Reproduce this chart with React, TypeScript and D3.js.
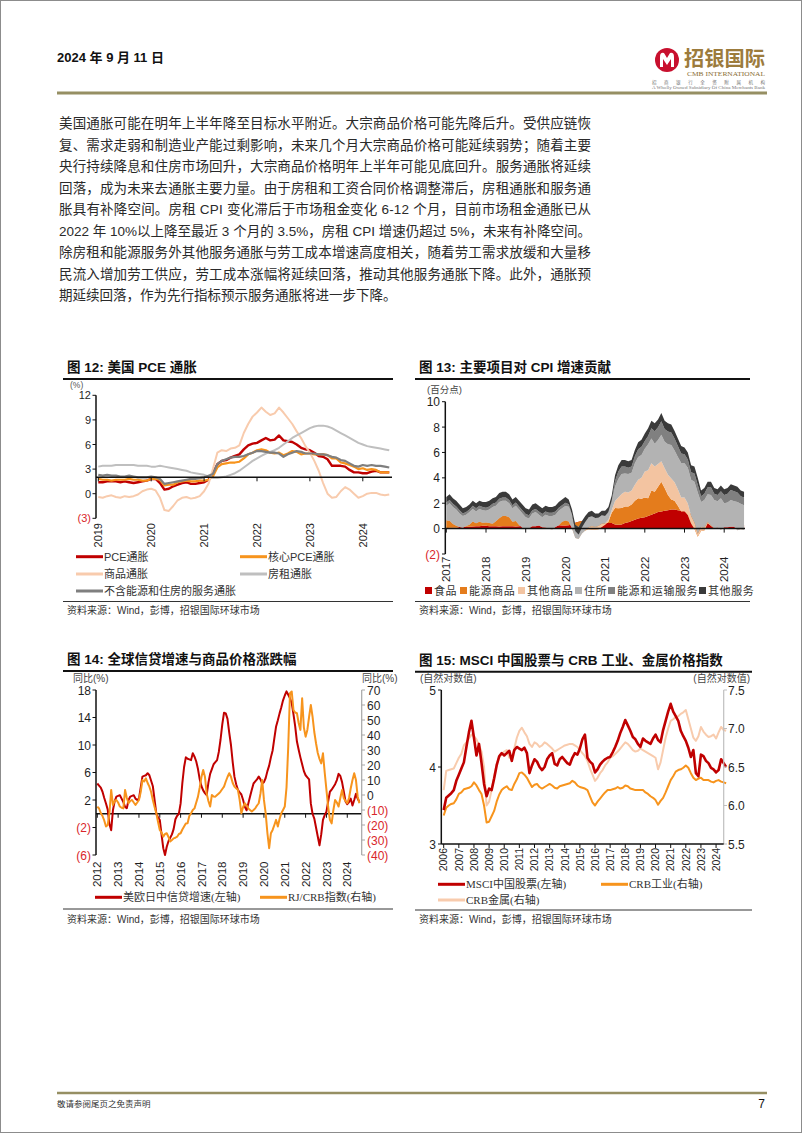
import React from "react";
import * as d3 from "d3";

const SANS = "'Liberation Sans', Arial, 'Noto Sans CJK SC', sans-serif";
const CJK = "'Liberation Sans', 'Noto Sans CJK SC', sans-serif";
const SERIF = "'Liberation Serif', 'Noto Sans CJK SC', serif";
const INK = "#1f1f1f";
const NEG = "#d9262b";
const GOLD = "#968f63";

// ---------- page text ----------
const headerDate = "2024 年 9 月 11 日";
const bodyLines = [
  "美国通胀可能在明年上半年降至目标水平附近。大宗商品价格可能先降后升。受供应链恢",
  "复、需求走弱和制造业产能过剩影响，未来几个月大宗商品价格可能延续弱势；随着主要",
  "央行持续降息和住房市场回升，大宗商品价格明年上半年可能见底回升。服务通胀将延续",
  "回落，成为未来去通胀主要力量。由于房租和工资合同价格调整滞后，房租通胀和服务通",
  "胀具有补降空间。房租 CPI 变化滞后于市场租金变化 6-12 个月，目前市场租金通胀已从",
  "2022 年 10%以上降至最近 3 个月的 3.5%，房租 CPI 增速仍超过 5%，未来有补降空间。",
  "除房租和能源服务外其他服务通胀与劳工成本增速高度相关，随着劳工需求放缓和大量移",
  "民流入增加劳工供应，劳工成本涨幅将延续回落，推动其他服务通胀下降。此外，通胀预",
  "期延续回落，作为先行指标预示服务通胀将进一步下降。",
];
const sourceText = "资料来源：Wind，彭博，招银国际环球市场";

// ---------- chart 12: US PCE inflation, monthly from 2019-01 ----------
const years12 = [2019, 2020, 2021, 2022, 2023, 2024];
const ticks12 = [-3, 0, 3, 6, 9, 12];
const pceHeadline = [
  1.4, 1.4, 1.5, 1.5, 1.5, 1.4, 1.5, 1.4, 1.3, 1.4, 1.5, 1.6,
  1.8, 1.8, 1.3, 0.5, 0.6, 0.9, 1.1, 1.3, 1.4, 1.2, 1.2, 1.3,
  1.4, 1.7, 2.5, 3.6, 4.0, 4.1, 4.4, 4.6, 4.8, 5.4, 5.9, 6.1,
  6.2, 6.5, 6.8, 6.5, 6.6, 7.1, 6.5, 6.4, 6.3, 6.0, 5.6, 5.4,
  5.3, 5.0, 4.6, 4.5, 4.2, 3.4, 3.4, 3.4, 3.3, 2.9, 2.6, 2.6,
  2.5, 2.5, 2.7, 2.8, 2.6, 2.6, 2.6,
];
const pceCore = [
  1.8, 1.7, 1.7, 1.6, 1.7, 1.7, 1.7, 1.8, 1.7, 1.7, 1.6, 1.6,
  1.8, 1.8, 1.7, 1.0, 1.1, 1.1, 1.4, 1.5, 1.6, 1.5, 1.5, 1.6,
  1.6, 1.7, 2.1, 3.2, 3.6, 3.7, 3.8, 3.8, 3.9, 4.3, 4.8, 5.0,
  5.3, 5.4, 5.3, 5.0, 4.9, 5.0, 4.7, 4.9, 5.2, 5.1, 4.8, 4.9,
  4.9, 4.8, 4.8, 4.8, 4.7, 4.3, 4.3, 3.8, 3.7, 3.5, 3.3, 3.0,
  3.1, 2.9, 3.0, 2.9, 2.6, 2.6, 2.6,
];
const pceGoods = [
  -0.4, -0.5, -0.3, -0.2, -0.4, -0.5, -0.3, -0.4, -0.3, -0.1, 0.3, 0.5,
  0.6, 0.4, -0.5, -2.0, -2.1, -1.5, -0.8, -0.5, -0.4, -0.6, -0.5, -0.3,
  0.3, 1.2, 3.0, 5.0, 5.3, 5.2, 5.5, 5.6, 5.9, 7.4, 8.5, 9.4,
  9.9, 10.5, 10.0, 9.6, 9.8, 10.5, 9.9, 9.2, 8.5, 7.6, 6.8, 5.8,
  5.0, 4.0, 2.8, 1.3, 0.0, -0.5, -0.4, 0.3, 0.8, 0.5, 0.0, -0.5,
  -0.3, 0.0, 0.1, 0.1, -0.1, -0.2, -0.1,
];
const pceRent = [
  3.3, 3.4, 3.4, 3.4, 3.5, 3.5, 3.5, 3.5, 3.5, 3.4, 3.4, 3.4,
  3.3, 3.3, 3.4, 3.3, 3.2, 3.1, 3.0, 2.9, 2.8, 2.6, 2.5, 2.4,
  2.3, 2.1, 1.9, 1.9, 2.0, 2.1, 2.3, 2.5, 2.8, 3.2, 3.6, 4.0,
  4.3, 4.6, 4.9, 5.1, 5.3, 5.6, 6.0, 6.4, 6.8, 7.1, 7.4, 7.7,
  8.0, 8.2, 8.3, 8.3, 8.2, 8.0, 7.7, 7.4, 7.1, 6.8, 6.5, 6.2,
  6.0, 5.8, 5.7, 5.6, 5.5, 5.4, 5.3,
];
const pceSupercore = [
  2.3, 2.2, 2.3, 2.2, 2.2, 2.1, 2.1, 2.2, 2.1, 2.0, 2.0, 2.0,
  2.1, 2.0, 1.8, 1.2, 1.3, 1.4, 1.5, 1.6, 1.7, 1.8, 1.8, 1.9,
  2.0, 2.2, 2.4, 3.6, 4.0, 4.2, 4.4, 4.5, 4.5, 4.6, 4.8, 5.0,
  5.2, 5.2, 5.1, 5.0, 5.0, 4.9, 4.5, 4.8, 5.0, 5.2, 5.1, 4.9,
  4.9, 4.9, 4.8, 4.8, 4.7, 4.5, 4.4, 4.1, 4.0, 3.7, 3.4, 3.3,
  3.5, 3.4, 3.5, 3.4, 3.4, 3.3, 3.2,
];

// ---------- chart 13: contributions to CPI, monthly from 2017-01 ----------
const years13 = [2017, 2018, 2019, 2020, 2021, 2022, 2023, 2024];
const ticks13 = [-2, 0, 2, 4, 6, 8, 10];
const cpiFood = [
  0.03, 0.07, 0.07, 0.07, 0.12, 0.12, 0.15, 0.15, 0.16, 0.18, 0.19, 0.22,
  0.23, 0.19, 0.18, 0.19, 0.16, 0.19, 0.19, 0.19, 0.19, 0.16, 0.19, 0.22,
  0.22, 0.27, 0.28, 0.24, 0.27, 0.26, 0.24, 0.23, 0.24, 0.28, 0.27, 0.24,
  0.24, 0.27, 0.35, 0.47, 0.54, 0.61, 0.55, 0.55, 0.53, 0.53, 0.5, 0.53,
  0.45, 0.45, 0.45, 0.32, 0.3, 0.32, 0.45, 0.5, 0.6, 0.7, 0.8, 0.85,
  0.9, 1.0, 1.1, 1.2, 1.3, 1.35, 1.4, 1.45, 1.5, 1.5, 1.45, 1.4,
  1.36, 1.28, 1.15, 1.04, 0.9, 0.77, 0.66, 0.58, 0.5, 0.45, 0.39, 0.36,
  0.35, 0.3, 0.3, 0.3, 0.28, 0.3, 0.3,
];
const cpiEnergyGoods = [
  0.65, 0.6, 0.35, 0.2, 0.05, 0.0, 0.1, 0.2, 0.45, 0.3, 0.4, 0.3,
  0.3, 0.3, 0.25, 0.45, 0.7, 0.85, 0.85, 0.75, 0.4, 0.5, 0.15, -0.1,
  -0.2, -0.2, -0.05, 0.0, 0.02, -0.1, -0.1, -0.2, -0.25, -0.1, 0.05, 0.35,
  0.45, 0.35, -0.3, -1.1, -1.2, -0.9, -0.7, -0.6, -0.6, -0.6, -0.55, -0.4,
  -0.15, 0.1, 0.8, 1.3, 1.3, 1.3, 1.3, 1.25, 1.3, 1.5, 1.6, 1.5,
  1.55, 1.4, 1.9, 1.7, 2.0, 2.35, 1.8, 1.2, 0.8, 0.7, 0.35, -0.05,
  0.0, -0.2, -0.75, -1.05, -1.55, -0.95, -0.8, -0.15, -0.3, -0.45, -0.25, -0.4,
  -0.2, -0.15, -0.1, -0.1, -0.3, -0.25, -0.3,
];
const cpiOtherGoods = [
  -0.05, -0.05, -0.05, -0.05, -0.05, -0.05, -0.05, -0.05, -0.05, -0.05, -0.05, -0.05,
  -0.05, -0.05, -0.05, -0.05, -0.05, -0.05, -0.05, -0.05, -0.05, -0.05, -0.05, -0.05,
  -0.05, -0.05, -0.05, -0.05, -0.05, -0.05, -0.05, -0.05, -0.05, -0.05, -0.05, -0.05,
  -0.05, -0.05, -0.05, -0.1, -0.15, -0.1, 0.0, 0.15, 0.25, 0.2, 0.25, 0.25,
  0.1, 0.15, 0.2, 0.55, 0.85, 1.1, 1.15, 1.1, 1.1, 1.25, 1.45, 1.65,
  2.05, 2.2, 2.15, 2.0, 1.8, 1.6, 1.55, 1.6, 1.65, 1.45, 1.3, 1.1,
  1.1, 0.9, 0.6, 0.5, 0.25, 0.3, 0.2, 0.1, 0.05, 0.0, -0.05, -0.05,
  -0.05, -0.05, -0.05, -0.05, -0.1, -0.1, -0.1,
];
const cpiShelter = [
  1.17, 1.38, 1.33, 1.28, 1.08, 0.93, 0.9, 1.0, 0.99, 0.92, 1.01, 0.98,
  0.92, 1.06, 1.32, 1.21, 1.29, 1.21, 1.21, 1.11, 1.06, 1.19, 1.21, 1.13,
  0.93, 0.78, 1.02, 1.11, 0.86, 0.79, 1.01, 1.02, 1.06, 0.97, 1.13, 1.06,
  1.15, 1.15, 1.1, 1.0, 0.95, 0.9, 0.85, 0.8, 0.75, 0.7, 0.65, 0.65,
  0.55, 0.55, 0.65, 1.13, 1.45, 1.58, 1.45, 1.45, 1.4, 1.7, 1.8, 1.8,
  1.8, 2.05, 1.95, 1.78, 1.88, 2.1, 2.1, 2.4, 2.63, 2.5, 2.55, 2.72,
  2.69, 2.82, 2.85, 3.21, 3.25, 1.98, 2.19, 2.17, 2.4, 2.25, 2.06, 2.49,
  1.9, 1.95, 2.1, 2.0, 2.22, 2.0, 1.95,
];
const cpiEnergyTransportSvc = [
  0.25, 0.25, 0.25, 0.25, 0.25, 0.2, 0.2, 0.2, 0.25, 0.25, 0.25, 0.25,
  0.25, 0.25, 0.25, 0.25, 0.25, 0.25, 0.25, 0.25, 0.25, 0.25, 0.25, 0.25,
  0.25, 0.25, 0.25, 0.25, 0.25, 0.25, 0.25, 0.25, 0.25, 0.25, 0.25, 0.25,
  0.25, 0.2, 0.0, -0.45, -0.6, -0.4, -0.15, 0.0, 0.05, 0.0, 0.0, 0.02,
  0.05, 0.05, 0.1, 0.45, 0.6, 0.6, 0.55, 0.5, 0.5, 0.55, 0.6, 0.65,
  0.6, 0.65, 0.8, 1.0, 1.0, 1.05, 1.0, 1.0, 1.0, 0.95, 0.85, 0.75,
  0.7, 0.65, 0.6, 0.65, 0.6, 0.45, 0.5, 0.55, 0.6, 0.5, 0.5, 0.55,
  0.65, 0.7, 0.8, 0.8, 0.75, 0.6, 0.6,
];
const cpiOtherSvc = [
  0.45, 0.45, 0.45, 0.45, 0.45, 0.4, 0.4, 0.4, 0.4, 0.4, 0.4, 0.4,
  0.45, 0.45, 0.45, 0.45, 0.45, 0.45, 0.45, 0.45, 0.45, 0.45, 0.45, 0.45,
  0.45, 0.45, 0.45, 0.45, 0.45, 0.45, 0.45, 0.45, 0.45, 0.45, 0.45, 0.45,
  0.46, 0.38, 0.4, 0.48, 0.56, 0.49, 0.45, 0.4, 0.42, 0.37, 0.35, 0.35,
  0.4, 0.4, 0.4, 0.45, 0.5, 0.5, 0.5, 0.5, 0.5, 0.5, 0.55, 0.55,
  0.6, 0.6, 0.6, 0.62, 0.62, 0.65, 0.65, 0.65, 0.62, 0.6, 0.6, 0.58,
  0.55, 0.55, 0.55, 0.55, 0.55, 0.45, 0.45, 0.45, 0.45, 0.45, 0.45, 0.45,
  0.45, 0.45, 0.45, 0.45, 0.45, 0.45, 0.45,
];
const legend13 = ["食品", "能源商品", "其他商品", "住所", "能源和运输服务", "其他服务"];

// ---------- chart 14: global credit growth vs RJ/CRB, monthly from 2012-01 ----------
const years14 = [2012, 2013, 2014, 2015, 2016, 2017, 2018, 2019, 2020, 2021, 2022, 2023, 2024];
const ticks14Left = [-6, -2, 2, 6, 10, 14, 18];
const ticks14Right = [-40, -30, -20, -10, 0, 10, 20, 30, 40, 50, 60, 70];
const creditGrowth = [
  4.4, 4.1, 3.8, 3.2, 2.3, 1.5, 0.6, -1.5, -2.4, 0.5, 1.8, 2.5,
  2.6, 2.7, 2.2, 1.7, 1.0, 0.8, 2.0, 2.5, 2.6, 2.7, 2.2, 2.0,
  2.2, 3.8, 5.4, 5.5, 5.6, 5.9, 5.6, 4.8, 4.0, 2.0, 0.0, -0.5,
  -0.9, -3.0, -5.0, -6.0, -4.8, -4.0, -3.5, -3.0, -2.2, -0.8, -0.3, 0.0,
  1.5, 4.5, 6.8, 8.2, 8.0, 7.9, 7.8, 8.8, 8.3, 7.6, 6.5, 5.0,
  4.0, 3.4, 3.0, 2.7, 4.5, 5.8, 6.5, 7.2, 7.5, 7.8, 9.0, 10.8,
  13.0, 14.7, 14.6, 13.8, 11.8, 10.0, 7.5, 5.4, 4.3, 3.5, 3.1, 2.8,
  2.0, 1.0, 0.5, 1.5, 2.5, 3.5, 4.4, 4.7, 5.0, 5.4, 5.0, 4.4,
  4.6, 5.2, 6.2, 7.0, 8.2, 9.2, 11.0, 12.7, 13.6, 14.6, 15.5, 16.5,
  17.2, 17.8, 17.3, 16.8, 16.1, 14.5, 12.7, 10.5, 9.3, 8.2, 7.2, 6.2,
  5.6, 5.3, 5.0, 1.5, 0.0, -0.7, -2.0, -3.3, -4.6, -3.0, -0.9, -0.2,
  0.3, 1.8, 3.2, 3.5, 3.9, 4.3, 4.9, 5.8, 5.5, 4.6, 3.2, 1.8,
  1.4, 1.7, 2.2, 1.2, 2.0, 2.9, 2.2, 1.7,
];
const rjCrb = [
  -7.7, -9, -12, -14, -17, -21, -20, -12, 3.4, -6.6, -4, -3.3,
  -5, -7.7, -8.5, -8.9, 3.4, -2, -5.5, -4, -3.3, -5, -6.6, -5,
  -3.3, 2, 10, 9, 11.1, 8, 5.6, 2, -3.3, -8, -12.2, -18,
  -23.3, -25, -27.8, -26, -25.5, -28, -31, -30, -28.9, -28.5, -27.8, -26,
  -25.5, -23, -21, -19, -18.9, -14, -12.2, -10, -8.9, -5, -1.1, 5,
  12, 16.7, 12.2, 1.1, -4, -7.7, 0, -1, -1.1, 0, 1, 2.3,
  4, 5.6, 9, 12, 14.5, 12.2, 8, 5.6, 4.5, 3.4, -3.3, -12.2,
  -8, -5.5, -7, -8.9, -10, -11, -10, -8.9, -7, -5.5, 1, 10,
  -3.3, -12.2, -25.5, -35.5, -25.5, -23.3, -20, -16.6, -21, -16, -12.2, -10,
  -7.7, 5, 32.3, 67.8, 69, 56.7, 55, 54.5, 48, 43.4, 64.5, 45,
  38.9, 43.4, 52, 60, 52.3, 42, 34.5, 28, 24, 21.1, 27.8, 15,
  3.4, -8, -16.6, -18.9, -10, -3.3, -5, -7.7, -2, 3.4, -2.2, -4,
  -5.5, -2, 4.5, 10, 14.5, 10, -1.1, -5.5,
];

// ---------- chart 15: MSCI China vs CRB indices (log), bi-monthly from 2006-01 ----------
const years15 = d3.range(2006, 2025);
const ticks15Left = [3, 4, 5];
const ticks15Right = [5.5, 6.0, 6.5, 7.0, 7.5];
const msciChina = [
  3.44, 3.60, 3.63, 3.66, 3.70, 3.82, 3.90, 3.98, 4.06, 4.26, 4.45, 4.60,
  4.38, 4.15, 4.30, 4.05, 3.78, 3.62, 3.72, 3.70, 3.85, 4.02, 4.14, 4.18,
  4.15, 4.18, 4.21, 4.08, 4.22, 4.26, 4.24, 4.22, 4.25, 4.18, 3.92, 4.02,
  4.10, 4.07, 4.00, 3.96, 4.00, 4.10, 4.15, 4.18, 4.04, 4.02, 4.10, 4.13,
  4.09, 4.05, 4.03, 4.12, 4.18, 4.16, 4.24, 4.36, 4.42, 4.12, 4.07, 4.04,
  3.93, 3.97, 4.03, 4.07, 4.10, 4.12, 4.13, 4.19, 4.26, 4.34, 4.44, 4.52,
  4.61, 4.54, 4.47, 4.39, 4.36, 4.30, 4.26, 4.37, 4.34, 4.32, 4.30, 4.37,
  4.42, 4.35, 4.32, 4.48, 4.60, 4.72, 4.82, 4.72, 4.66, 4.60, 4.47, 4.40,
  4.34, 4.25, 4.13, 4.22, 3.92, 3.88, 4.16, 4.14, 4.08, 4.05, 3.99, 3.97,
  3.93, 3.96, 4.10, 4.05, 4.00,
];
const crbIndustrials = [
  5.87, 5.97, 6.00, 6.02, 6.03, 6.08, 6.15, 6.17, 6.21, 6.22, 6.23, 6.25,
  6.30, 6.26, 6.20, 6.15, 6.00, 5.78, 5.79, 5.86, 5.93, 6.05, 6.14, 6.20,
  6.23, 6.25, 6.21, 6.20, 6.28, 6.34, 6.42, 6.43, 6.40, 6.36, 6.30, 6.24,
  6.27, 6.28, 6.24, 6.22, 6.24, 6.26, 6.28, 6.26, 6.23, 6.22, 6.25, 6.26,
  6.27, 6.28, 6.29, 6.32, 6.30, 6.26, 6.24, 6.23, 6.22, 6.20, 6.12, 6.04,
  6.00, 6.05, 6.09, 6.13, 6.17, 6.20, 6.20, 6.21, 6.22, 6.24, 6.22, 6.23,
  6.26, 6.25, 6.22, 6.21, 6.20, 6.20, 6.20, 6.20, 6.17, 6.15, 6.12, 6.10,
  6.07, 6.01, 6.06, 6.10, 6.17, 6.25, 6.33, 6.38, 6.44, 6.46, 6.47, 6.49,
  6.52, 6.49, 6.42, 6.36, 6.33, 6.35, 6.36, 6.33, 6.33, 6.33, 6.31, 6.30,
  6.32, 6.33, 6.31, 6.30, 6.29,
];
const crbMetals = [
  6.20, 6.45, 6.46, 6.47, 6.48, 6.55, 6.62, 6.67, 6.78, 6.82, 6.87, 6.92,
  6.90, 6.86, 6.78, 6.70, 6.50, 6.00, 6.05, 6.20, 6.38, 6.54, 6.62, 6.67,
  6.70, 6.72, 6.62, 6.62, 6.74, 6.88, 6.97, 7.01, 6.95, 6.90, 6.80, 6.76,
  6.82, 6.80, 6.76, 6.78, 6.82, 6.80, 6.77, 6.74, 6.70, 6.72, 6.74, 6.76,
  6.78, 6.79, 6.80, 6.80, 6.78, 6.76, 6.72, 6.68, 6.64, 6.58, 6.48, 6.40,
  6.32, 6.36, 6.42, 6.46, 6.52, 6.56, 6.62, 6.64, 6.67, 6.70, 6.74, 6.78,
  6.82, 6.80, 6.76, 6.72, 6.70, 6.71, 6.74, 6.72, 6.70, 6.68, 6.66, 6.64,
  6.62, 6.47, 6.56, 6.72, 6.88, 7.00, 7.10, 7.12, 7.15, 7.16, 7.19, 7.21,
  7.24, 7.12, 7.00, 6.88, 6.84, 6.90, 7.02, 6.96, 6.92, 6.89, 6.90, 6.92,
  6.87, 6.95, 7.02, 6.98, 6.97,
];

// ---------- helpers ----------
const negFmt = (v: number) => (v < 0 ? `(${-v})` : `${v}`);

function YearLabels({ years, x, top, size }: any) {
  return (
    <g>
      {years.map((yr: number) => (
        <text key={yr} transform={`translate(${x(yr)},${top}) rotate(-90)`} textAnchor="end"
          dy="0.36em" fontSize={size} fontFamily={SANS} fill={INK}>{yr}</text>
      ))}
    </g>
  );
}

function Frame({ x0, x1, title, ruleY, srcRuleY, srcY }: any) {
  return (
    <g>
      <text x={x0 + 4} y={ruleY - 7} fontSize={13.5} fontWeight="bold" fontFamily={CJK} fill="#111">{title}</text>
      <line x1={x0} x2={x1} y1={ruleY} y2={ruleY} stroke="#111" strokeWidth={2} />
      <line x1={x0} x2={x1} y1={srcRuleY} y2={srcRuleY} stroke="#333" strokeWidth={1} />
      <text x={x0 + 4} y={srcY} fontSize={10} fontFamily={CJK} fill="#333">{sourceText}</text>
    </g>
  );
}

function LegendLine({ x, y, color, label, font, w = 27 }: any) {
  return (
    <g>
      <line x1={x} x2={x + w} y1={y} y2={y} stroke={color} strokeWidth={3} />
      <text x={x + w + 1} y={y + 4} fontSize={11} fontFamily={font || CJK} fill="#333">{label}</text>
    </g>
  );
}

function Header() {
  const cx = 667, cy = 60;
  return (
    <g>
      <text x={57} y={62} fontSize={13} fontWeight="bold" fontFamily={CJK} fill="#111">{headerDate}</text>
      <circle cx={cx} cy={cy} r={12} fill="#c8102e" />
      <path d={`M${cx - 7},${cy + 7} L${cx - 7},${cy - 3} Q${cx - 7},${cy - 8} ${cx - 3},${cy - 7}
        L${cx},${cy - 2} L${cx + 3},${cy - 7} Q${cx + 7},${cy - 8} ${cx + 7},${cy - 3} L${cx + 7},${cy + 7}
        L${cx + 4},${cy + 7} L${cx + 4},${cy - 1} L${cx},${cy + 5} L${cx - 4},${cy - 1} L${cx - 4},${cy + 7} Z`}
        fill="#fff" />
      <text x={684} y={66} fontSize={20} fontWeight="bold" fontFamily={CJK} fill="#9c7b3c"
        textLength={81} lengthAdjust="spacingAndGlyphs">招银国际</text>
      <text x={687} y={76} fontSize={7} fontFamily={SERIF} fill="#8a6d35"
        textLength={78} lengthAdjust="spacingAndGlyphs">CMB INTERNATIONAL</text>
      <text x={652} y={84} fontSize={4.5} fontFamily={CJK} fill="#777" textLength={113}
        lengthAdjust="spacing">招商银行全资附属机构</text>
      <text x={652} y={89} fontSize={3.6} fontFamily={SERIF} fill="#777" textLength={113}
        lengthAdjust="spacingAndGlyphs">A Wholly Owned Subsidiary Of China Merchants Bank</text>
      <line x1={57} x2={767} y1={93} y2={93} stroke={GOLD} strokeWidth={3} />
    </g>
  );
}

function Body() {
  return (
    <g>
      {bodyLines.map((s, i) => (
        <text key={i} x={59} y={128 + i * 21.5} fontSize={13.5} fontFamily={CJK} fill="#2a2a2a"
          {...(i < bodyLines.length - 1 ? { textLength: 532, lengthAdjust: "spacing" } : {})}>{s}</text>
      ))}
    </g>
  );
}

function Footer() {
  return (
    <g>
      <line x1={57} x2={767} y1={1093} y2={1093} stroke={GOLD} strokeWidth={2.5} />
      <text x={57} y={1107} fontSize={8.5} fontFamily={CJK} fill="#333">敬请参阅尾页之免责声明</text>
      <text x={765} y={1108} fontSize={12} fontFamily={SANS} fill="#111" textAnchor="end">7</text>
    </g>
  );
}

function Chart12() {
  const x = d3.scaleLinear().domain([2019, 2025]).range([98.3, 415.7]);
  const y = d3.scaleLinear().domain([-3, 12]).range([518.3, 395.3]);
  const line = d3.line<number>().x((_, i) => x(2019 + i / 12)).y((d) => y(d));
  const axisY = y(2);
  const series = [
    { data: pceHeadline, color: "#c00000", w: 2.4 },
    { data: pceCore, color: "#f7941d", w: 2.2 },
    { data: pceGoods, color: "#f8cbad", w: 2 },
    { data: pceRent, color: "#bfbfbf", w: 2 },
    { data: pceSupercore, color: "#7f7f7f", w: 2.2 },
  ];
  return (
    <g>
      <Frame x0={63} x1={393} title="图 12: 美国 PCE 通胀" ruleY={379} srcRuleY={601.5} srcY={614} />
      <text x={70} y={388} fontSize={8.5} fontFamily={SANS} fill="#555">(%)</text>
      {series.map((s, i) => (
        <path key={i} d={line(s.data) || ""} fill="none" stroke={s.color} strokeWidth={s.w} strokeLinejoin="round" />
      ))}
      <line x1={96} x2={96} y1={y(12)} y2={y(-3)} stroke="#111" strokeWidth={1.5} />
      {ticks12.map((t) => (
        <g key={t}>
          <line x1={92.5} x2={96} y1={y(t)} y2={y(t)} stroke="#111" />
          <text x={91} y={y(t) + 4} textAnchor="end" fontSize={11} fontFamily={SANS} fill={t < 0 ? NEG : INK}>{negFmt(t)}</text>
        </g>
      ))}
      <line x1={96} x2={392} y1={axisY} y2={axisY} stroke="#111" strokeWidth={1.5} />
      {years12.map((yr) => (
        <line key={yr} x1={x(yr)} x2={x(yr)} y1={axisY} y2={axisY + 4} stroke="#111" />
      ))}
      <YearLabels years={years12} x={x} top={523} size={11} />
      <LegendLine x={76} y={556.7} color="#c00000" label="PCE通胀" />
      <LegendLine x={240} y={556.7} color="#f7941d" label="核心PCE通胀" />
      <LegendLine x={76} y={574} color="#f8cbad" label="商品通胀" />
      <LegendLine x={240} y={574} color="#bfbfbf" label="房租通胀" />
      <LegendLine x={76} y={591} color="#7f7f7f" label="不含能源和住房的服务通胀" />
    </g>
  );
}

function Chart13() {
  const x = d3.scaleLinear().domain([2017, 2025]).range([446.3, 763.9]);
  const y = d3.scaleLinear().domain([-2, 10]).range([554, 401.7]);
  const keys = ["food", "energyGoods", "otherGoods", "shelter", "energySvc", "otherSvc"];
  const colors = ["#c00000", "#e47c1c", "#f3c4a1", "#b3b3b3", "#808080", "#3a3a3a"];
  const rows = cpiFood.map((_, i) => ({
    food: cpiFood[i], energyGoods: cpiEnergyGoods[i], otherGoods: cpiOtherGoods[i],
    shelter: cpiShelter[i], energySvc: cpiEnergyTransportSvc[i], otherSvc: cpiOtherSvc[i],
  }));
  // default offset: cumulative sums, like a spreadsheet stacked area
  const series = d3.stack<any>().keys(keys)(rows);
  const area = d3.area<any>().x((_, i) => x(2017 + i / 12)).y0((d) => y(d[0])).y1((d) => y(d[1]));
  const legendX = [425, 460, 518, 575, 608, 699];
  return (
    <g>
      <Frame x0={415} x1={750} title="图 13: 主要项目对 CPI 增速贡献" ruleY={379} srcRuleY={601.5} srcY={614} />
      <text x={427} y={393} fontSize={9.5} fontFamily={CJK} fill="#444">(百分点)</text>
      {series.map((s, i) => (
        <path key={i} d={area(s as any) || ""} fill={colors[i]} />
      ))}
      <line x1={445.3} x2={445.3} y1={y(10)} y2={y(-2)} stroke="#111" strokeWidth={1.5} />
      {ticks13.map((t) => (
        <g key={t}>
          <line x1={442} x2={445.3} y1={y(t)} y2={y(t)} stroke="#111" />
          <text x={440} y={y(t) + 4.5} textAnchor="end" fontSize={12} fontFamily={SANS} fill={t < 0 ? NEG : INK}>{negFmt(t)}</text>
        </g>
      ))}
      <line x1={445.3} x2={745} y1={y(0)} y2={y(0)} stroke="#111" strokeWidth={1.5} />
      {years13.map((yr) => (
        <line key={yr} x1={x(yr)} x2={x(yr)} y1={y(0)} y2={y(0) + 4} stroke="#111" />
      ))}
      <YearLabels years={years13} x={x} top={556.5} size={11.5} />
      {legend13.map((lab, i) => (
        <g key={lab}>
          <rect x={legendX[i]} y={587} width={7} height={7} fill={colors[i]} />
          <text x={legendX[i] + 9} y={594.5} fontSize={11} fontFamily={CJK} fill="#333" letterSpacing={0.6}>{lab}</text>
        </g>
      ))}
    </g>
  );
}

function Chart14() {
  const x = d3.scaleLinear().domain([2012, 2025]).range([97.3, 368.1]);
  const yL = d3.scaleLinear().domain([-6, 18]).range([855, 690]);
  const yR = d3.scaleLinear().domain([-40, 70]).range([855, 690]);
  const t = (i: number) => 2012 + i / 12;
  const lineL = d3.line<number>().x((_, i) => x(t(i))).y((d) => yL(d));
  const lineR = d3.line<number>().x((_, i) => x(t(i))).y((d) => yR(d));
  const zero = yL(0);
  return (
    <g>
      <Frame x0={63} x1={393} title="图 14: 全球信贷增速与商品价格涨跌幅" ruleY={671} srcRuleY={909} srcY={923} />
      <text x={73} y={682} fontSize={10} fontFamily={CJK} fill="#444">同比(%)</text>
      <text x={362} y={682} fontSize={10} fontFamily={CJK} fill="#444">同比(%)</text>
      <line x1={96} x2={361.7} y1={zero} y2={zero} stroke="#111" strokeWidth={1.5} />
      {years14.map((yr) => (
        <line key={yr} x1={x(yr)} x2={x(yr)} y1={zero} y2={zero + 4} stroke="#111" />
      ))}
      <path d={lineL(creditGrowth) || ""} fill="none" stroke="#c00000" strokeWidth={2} strokeLinejoin="round" />
      <path d={lineR(rjCrb) || ""} fill="none" stroke="#f7941d" strokeWidth={2} strokeLinejoin="round" />
      <line x1={96} x2={96} y1={690} y2={855} stroke="#111" strokeWidth={1.5} />
      {ticks14Left.map((v) => (
        <g key={v}>
          <line x1={92.5} x2={96} y1={yL(v)} y2={yL(v)} stroke="#111" />
          <text x={91} y={yL(v) + 4.5} textAnchor="end" fontSize={12} fontFamily={SANS} fill={v < 0 ? NEG : INK}>{negFmt(v)}</text>
        </g>
      ))}
      <line x1={361.7} x2={361.7} y1={690} y2={855} stroke="#a6a6a6" strokeWidth={1.2} />
      {ticks14Right.map((v) => (
        <g key={v}>
          <line x1={361.7} x2={365} y1={yR(v)} y2={yR(v)} stroke="#a6a6a6" />
          <text x={367} y={yR(v) + 4.5} fontSize={12} fontFamily={SANS} fill={v < 0 ? NEG : INK}>{negFmt(v)}</text>
        </g>
      ))}
      <YearLabels years={years14} x={x} top={861.5} size={11.5} />
      <LegendLine x={95} y={897.3} color="#c00000" label="美欧日中信贷增速(左轴)" font={SERIF} />
      <LegendLine x={260} y={897.3} color="#f7941d" label="RJ/CRB指数(右轴)" font={SERIF} />
    </g>
  );
}

function Chart15() {
  const x = d3.scaleLinear().domain([2006, 2025]).range([443.7, 731.2]);
  const yL = d3.scaleLinear().domain([3, 5]).range([844, 690]);
  const yR = d3.scaleLinear().domain([5.5, 7.5]).range([844, 690]);
  const t = (k: number) => 2006 + k / 6;
  const lineL = d3.line<number>().x((_, k) => x(t(k))).y((d) => yL(d));
  const lineR = d3.line<number>().x((_, k) => x(t(k))).y((d) => yR(d));
  return (
    <g>
      <Frame x0={415} x1={752} title="图 15: MSCI 中国股票与 CRB 工业、金属价格指数" ruleY={671.7} srcRuleY={910} srcY={923} />
      <text x={420} y={681.5} fontSize={10} fontFamily={CJK} fill="#444">(自然对数值)</text>
      <text x={750} y={681.5} textAnchor="end" fontSize={10} fontFamily={CJK} fill="#444">(自然对数值)</text>
      <path d={lineR(crbMetals) || ""} fill="none" stroke="#f8cbad" strokeWidth={2} strokeLinejoin="round" />
      <path d={lineR(crbIndustrials) || ""} fill="none" stroke="#f7941d" strokeWidth={2} strokeLinejoin="round" />
      <path d={lineL(msciChina) || ""} fill="none" stroke="#c00000" strokeWidth={2.6} strokeLinejoin="round" />
      <line x1={441.3} x2={441.3} y1={690} y2={844} stroke="#111" strokeWidth={1.5} />
      {ticks15Left.map((v) => (
        <g key={v}>
          <line x1={438} x2={441.3} y1={yL(v)} y2={yL(v)} stroke="#111" />
          <text x={436} y={yL(v) + 4.5} textAnchor="end" fontSize={12} fontFamily={SANS} fill={INK}>{v}</text>
        </g>
      ))}
      <line x1={723.7} x2={723.7} y1={690} y2={844} stroke="#bfbfbf" strokeWidth={1.2} />
      {ticks15Right.map((v) => (
        <g key={v}>
          <line x1={723.7} x2={727} y1={yR(v)} y2={yR(v)} stroke="#bfbfbf" />
          <text x={728} y={yR(v) + 4.5} fontSize={12} fontFamily={SANS} fill={INK}>{v.toFixed(1)}</text>
        </g>
      ))}
      <line x1={441.3} x2={723.7} y1={844} y2={844} stroke="#111" strokeWidth={1.5} />
      {years15.map((yr) => (
        <line key={yr} x1={x(yr)} x2={x(yr)} y1={844} y2={848} stroke="#111" />
      ))}
      <YearLabels years={years15} x={x} top={848} size={10.5} />
      <LegendLine x={438} y={884.3} color="#c00000" label="MSCI中国股票(左轴)" font={SERIF} />
      <LegendLine x={601} y={884.3} color="#f7941d" label="CRB工业(右轴)" font={SERIF} />
      <LegendLine x={438} y={900} color="#f8cbad" label="CRB金属(右轴)" font={SERIF} />
    </g>
  );
}

export default function App() {
  return (
    <svg width={802} height={1133} viewBox="0 0 802 1133"
      style={{ position: "absolute", left: 0, top: 0, background: "#fff" }}>
      <rect x={0} y={0} width={802} height={1133} fill="#fff" />
      <rect x={0.5} y={0.5} width={801} height={1132} fill="none" stroke="#8c8c8c" />
      <Header />
      <Body />
      <Chart12 />
      <Chart13 />
      <Chart14 />
      <Chart15 />
      <Footer />
    </svg>
  );
}
